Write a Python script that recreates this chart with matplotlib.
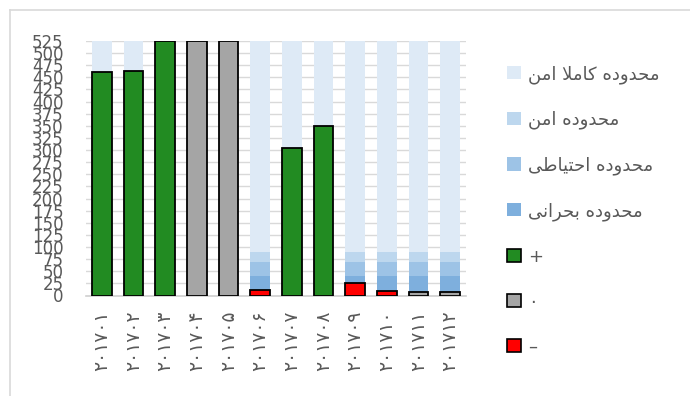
import matplotlib
matplotlib.use("Agg")
import matplotlib.pyplot as plt
from matplotlib.patches import Patch
from matplotlib.lines import Line2D

# ---- data ----
months = ["۲۰۱۷۰۱", "۲۰۱۷۰۲", "۲۰۱۷۰۳", "۲۰۱۷۰۴", "۲۰۱۷۰۵", "۲۰۱۷۰۶",
          "۲۰۱۷۰۷", "۲۰۱۷۰۸", "۲۰۱۷۰۹", "۲۰۱۷۱۰", "۲۰۱۷۱۱", "۲۰۱۷۱۲"]
values = [462, 463, 525, 525, 525, 12, 305, 350, 25, 9, 8, 8]
status = ["+", "+", "+", "۰", "۰", "–", "+", "+", "–", "–", "۰", "۰"]

# zone thicknesses, stacked from the bottom
zone_names = ["محدوده بحرانی", "محدوده احتیاطی", "محدوده امن", "محدوده کاملا امن"]
zone_sizes = [40, 30, 20, 435]
zone_colors = ["#7EAFDD", "#9DC3E6", "#BDD7EE", "#DEEAF6"]

status_labels = ["+", "۰", "–"]
status_colors = {"+": "#228B22", "۰": "#A5A5A5", "–": "#FF0000"}

y_ticks = list(range(0, 526, 25))

TEXT = "#595959"

# ---- minimal Persian shaping (presentation forms, right-to-left) ----
FORMS = {
    'ا': ('\uFE8D', '\uFE8E', None, None),
    'ب': ('\uFE8F', '\uFE90', '\uFE91', '\uFE92'),
    'ت': ('\uFE95', '\uFE96', '\uFE97', '\uFE98'),
    'ح': ('\uFEA1', '\uFEA2', '\uFEA3', '\uFEA4'),
    'د': ('\uFEA9', '\uFEAA', None, None),
    'ر': ('\uFEAD', '\uFEAE', None, None),
    'ط': ('\uFEC1', '\uFEC2', '\uFEC3', '\uFEC4'),
    'ل': ('\uFEDD', '\uFEDE', '\uFEDF', '\uFEE0'),
    'م': ('\uFEE1', '\uFEE2', '\uFEE3', '\uFEE4'),
    'ن': ('\uFEE5', '\uFEE6', '\uFEE7', '\uFEE8'),
    'ه': ('\uFEE9', '\uFEEA', '\uFEEB', '\uFEEC'),
    'و': ('\uFEED', '\uFEEE', None, None),
    'ک': ('\uFB8E', '\uFB8F', '\uFB90', '\uFB91'),
    'ی': ('\uFBFC', '\uFBFD', '\uFBFE', '\uFBFF'),
}


def _dual(c):
    return c in FORMS and FORMS[c][2] is not None


def shape(text):
    chars = list(text)
    out = []
    i = 0
    while i < len(chars):
        c = chars[i]
        if c not in FORMS:
            out.append(c)
            i += 1
            continue
        prev = chars[i - 1] if i > 0 else None
        jp = prev is not None and _dual(prev)
        if c == 'ل' and i + 1 < len(chars) and chars[i + 1] == 'ا':
            out.append('\uFEFC' if jp else '\uFEFB')
            i += 2
            continue
        nxt = chars[i + 1] if i + 1 < len(chars) else None
        jn = nxt is not None and nxt in FORMS and _dual(c)
        iso, fin, ini, med = FORMS[c]
        if jp and jn:
            g = med
        elif jp:
            g = fin
        elif jn:
            g = ini
        else:
            g = iso
        out.append(g)
        i += 1
    return ''.join(reversed(out))


plt.rcParams['font.family'] = ['DejaVu Sans']

W, H = 690, 396
fig = plt.figure(figsize=(W / 100, H / 100), dpi=100)
ax = fig.add_axes([86 / W, (H - 295.5) / H, 380 / W, 254.5 / H])

x = list(range(len(months)))
bw = 0.63

# background zones
bottom = [0] * len(months)
for size, col in zip(zone_sizes, zone_colors):
    ax.bar(x, [size] * len(months), bw, bottom=bottom, color=col,
           edgecolor='none', zorder=2)
    bottom = [b + size for b in bottom]

# monthly values
ax.bar(x, values, bw, color=[status_colors[s] for s in status],
       edgecolor='black', linewidth=1.3, zorder=3)

ax.set_xlim(-0.5, len(months) - 0.5)
ax.set_ylim(0, 525)
ax.set_yticks(y_ticks)
ax.set_yticklabels([str(t) for t in y_ticks])
ax.set_xticks(x)
ax.set_xticklabels(months, rotation=90, fontsize=13.5, color=TEXT)
ax.tick_params(axis='y', length=0, pad=16, labelsize=12, labelcolor=TEXT)
ax.tick_params(axis='x', length=0, pad=11)
ax.yaxis.grid(True, color='#D9D9D9', linewidth=1.0, zorder=0)
ax.set_axisbelow(True)
for side in ['top', 'right', 'left']:
    ax.spines[side].set_visible(False)
ax.spines['bottom'].set_color('#D0D0D0')
ax.spines['bottom'].set_linewidth(1.2)

# legend
handles = [Patch(facecolor=c, edgecolor='none') for c in reversed(zone_colors)]
labels = [shape(n) for n in reversed(zone_names)]
for s in status_labels:
    handles.append(Patch(facecolor=status_colors[s], edgecolor='black', linewidth=1.2))
    labels.append(s)
fig.legend(handles, labels, loc='upper left',
           bbox_to_anchor=(507 / W, 1 - 65 / H), frameon=False,
           fontsize=13, labelcolor=TEXT, handlelength=0.75, handleheight=0.75,
           handletextpad=0.4, labelspacing=1.5, borderpad=0, borderaxespad=0)

# chart frame
frame = dict(color='#D9D9D9', linewidth=1.2, transform=fig.transFigure)
fig.add_artist(Line2D([9.5 / W, 9.5 / W], [0, 1 - 9.5 / H], **frame))
fig.add_artist(Line2D([9.5 / W, 1], [1 - 9.5 / H, 1 - 9.5 / H], **frame))

fig.savefig("out.png", dpi=100)
